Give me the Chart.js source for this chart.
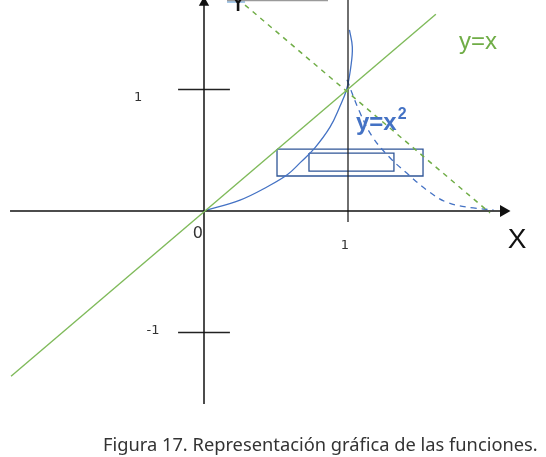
<!DOCTYPE html>
<html>
<head>
<meta charset="utf-8">
<script src="https://cdn.jsdelivr.net/npm/chart.js@4/dist/chart.umd.min.js"></script>
<style>
  body { margin: 0; background: #fff; }
  #wrap { position: relative; width: 546px; height: 457px; }
  #caption {
    position: absolute; left: 103px; top: 432px;
    font-family: "Noto Sans", sans-serif; font-size: 18.3px; line-height: 24px;
    color: #333; white-space: nowrap;
  }
</style>
</head>
<body>
<div id="wrap">
  <canvas id="chart"></canvas>
  <div id="caption">Figura 17. Representación gráfica de las funciones.</div>
</div>
<script>
// y = x (solid green)
const lineYX = [[-1.34, -1.36], [1.61, 1.62]];
// y = x^2 as drawn (solid blue)
const curveX2 = [
  [0, 0], [0.25, 0.09], [0.44, 0.2], [0.58, 0.3], [0.67, 0.4], [0.77, 0.52],
  [0.875, 0.69], [0.94, 0.85], [0.99, 1.0], [1.02, 1.19], [1.03, 1.35], [1.01, 1.49]
];
// mirrored curve (dashed blue)
const curveDashed = [
  [0.993, 1.08], [1.083, 0.81], [1.17, 0.61], [1.29, 0.44], [1.41, 0.31],
  [1.55, 0.17], [1.69, 0.07], [1.87, 0.025], [2.01, 0.01]
];
// dashed green line
const lineDashed = [[0.285, 1.695], [1.986, -0.016]];
// axes and guide lines
const xAxisLine = [[-1.347, 0], [2.08, 0]];
const yAxisLine = [[0, -1.588], [0, 1.72]];
const xOneLine = [[1, -0.09], [1, 1.8]];
const tickPlusOne = [[-0.18, 1], [0.18, 1]];
const tickMinusOne = [[-0.18, -1], [0.18, -1]];
const arrowX = [[2.08, 0]];
const arrowY = [[0, 1.715]];
// rectangles
const rectOuter = [[0.507, 0.51], [1.521, 0.51], [1.521, 0.288], [0.507, 0.288], [0.507, 0.51]];
const rectInner = [[0.729, 0.477], [1.319, 0.477], [1.319, 0.329], [0.729, 0.329], [0.729, 0.477]];
// cut-off pieces at the top edge
const topEdge = [[0.16, 1.733], [0.861, 1.733]];
const topBlue = [[0.16, 1.725], [0.285, 1.725]];

const GREEN = '#7fba5a';
const BLUE = '#4472c4';
const DARKBLUE = '#2f5597';

const toPts = arr => arr.map(([x, y]) => ({ x, y }));

function seg(data, color, width, extra) {
  return Object.assign({
    data: toPts(data), showLine: true, borderColor: color, backgroundColor: color,
    borderWidth: width, pointRadius: 0, tension: 0, clip: false
  }, extra || {});
}

const textLabels = [
  { text: 'y=x', x: 1.903, y: 1.391, font: '24px "Liberation Sans"', color: '#70ad47', align: 'center' },
  { text: 'y=x', sup: '2', x: 1.055, y: 0.724, font: 'bold 24px "Liberation Sans"', supFont: 'bold 16px "Liberation Sans"', color: BLUE, align: 'left' },
  { text: '1', x: -0.458, y: 0.93, font: '13px "DejaVu Sans"', color: '#333', align: 'center' },
  { text: '-1', x: -0.354, y: -0.988, font: '13px "DejaVu Sans"', color: '#333', align: 'center' },
  { text: '0', x: -0.042, y: -0.189, font: '16px "DejaVu Sans"', color: '#333', align: 'center' },
  { text: '1', x: 0.979, y: -0.288, font: '13px "DejaVu Sans"', color: '#333', align: 'center' },
  { text: 'X', x: 2.174, y: -0.239, font: '28px "Liberation Sans"', color: '#111', align: 'center' },
  { text: 'Y', x: 0.236, y: 1.646, font: '28px "Liberation Sans"', color: '#111', align: 'center', baseline: 'alphabetic' }
];

const labelPlugin = {
  id: 'labels',
  afterDatasetsDraw(chart) {
    const { ctx, scales: { x, y } } = chart;
    ctx.save();
    textLabels.forEach(l => {
      const px = x.getPixelForValue(l.x);
      const py = y.getPixelForValue(l.y);
      ctx.font = l.font;
      ctx.fillStyle = l.color;
      ctx.textAlign = l.align;
      ctx.textBaseline = l.baseline || 'middle';
      ctx.fillText(l.text, px, py);
      if (l.sup) {
        const w = ctx.measureText(l.text).width;
        ctx.font = l.supFont;
        ctx.textAlign = 'left';
        ctx.fillText(l.sup, px + w + 1, py - 8);
      }
    });
    ctx.restore();
  }
};

new Chart(document.getElementById('chart'), {
  type: 'scatter',
  data: {
    datasets: [
      seg(topEdge, '#9a9a9a', 1.5),
      seg(topBlue, '#9dc3e6', 3),
      seg(lineYX, GREEN, 1.4),
      seg(lineDashed, '#70ad47', 1.5, { borderDash: [5, 5] }),
      seg(xAxisLine, '#111', 1.5),
      seg(yAxisLine, '#111', 1.5),
      seg(xOneLine, '#222', 1.3),
      seg(tickPlusOne, '#222', 1.3),
      seg(tickMinusOne, '#222', 1.3),
      seg(curveX2, BLUE, 1.3, { tension: 0.4 }),
      seg(curveDashed, BLUE, 1.3, { tension: 0.4, borderDash: [6, 5] }),
      seg(rectOuter, DARKBLUE, 1.3),
      seg(rectInner, DARKBLUE, 1.3),
      { data: toPts(arrowX), showLine: false, pointStyle: 'triangle', rotation: 90, pointRadius: 7,
        backgroundColor: '#111', borderColor: '#111', borderWidth: 0, clip: false },
      { data: toPts(arrowY), showLine: false, pointStyle: 'triangle', rotation: 0, pointRadius: 6,
        backgroundColor: '#111', borderColor: '#111', borderWidth: 0, clip: false }
    ]
  },
  options: {
    responsive: true,
    maintainAspectRatio: false,
    animation: false,
    layout: { padding: 0, autoPadding: false },
    plugins: { legend: { display: false }, tooltip: { enabled: false } },
    scales: {
      x: { type: 'linear', display: false, min: -204 / 144, max: (546 - 204) / 144 },
      y: { type: 'linear', display: false, min: (211 - 457) / 121.5, max: 211 / 121.5 }
    }
  },
  plugins: [labelPlugin]
});
</script>
</body>
</html>
